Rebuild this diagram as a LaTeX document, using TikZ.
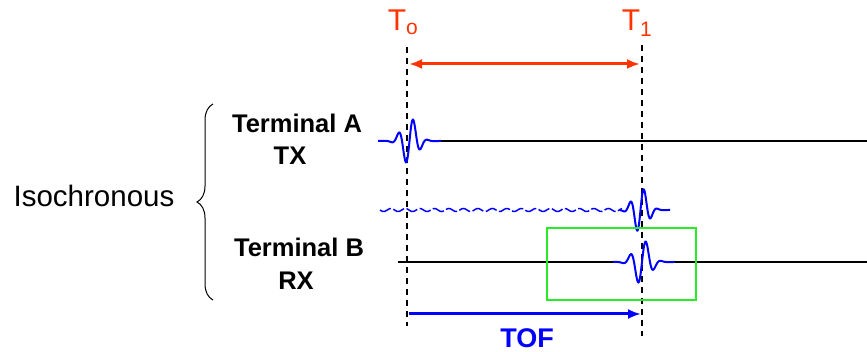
\documentclass[tikz,border=0pt]{standalone}
\usepackage{fontspec}
\setmainfont{Liberation Sans}
\usepackage{tikz}
\usetikzlibrary{arrows.meta,decorations.pathreplacing}
\definecolor{tred}{RGB}{255,51,0}
\definecolor{tblue}{RGB}{0,0,255}
\definecolor{tgreen}{RGB}{40,235,40}

\begin{document}
\begin{tikzpicture}[x=1pt,y=-1pt]
\def\cLine{black}
\def\cWave{tblue}
\def\yA{141}
\def\yW{210}
\def\yB{262}
\useasboundingbox (0,0) rectangle (867,352);
% time marks
\coordinate (t0top) at (407,47);
\coordinate (t0bot) at (407,326);
\coordinate (t1top) at (642,45);
\coordinate (t1bot) at (642,336);
\draw[\cLine, line width=1.4pt, dash pattern=on 6pt off 5pt] (t0top) -- (t0bot);
\draw[\cLine, line width=1.4pt, dash pattern=on 6pt off 5pt] (t1top) -- (t1bot);
\node[tred, anchor=base, font=\fontsize{30}{32}\selectfont] (T0) at (403,31) {T\textsubscript{o}};
\node[tred, anchor=base, font=\fontsize{30}{32}\selectfont] (T1) at (637,31) {T\textsubscript{1}};
\coordinate (r0) at (409,64);
\coordinate (r1) at (640,64);
\draw[tred, line width=3pt, {Latex[length=13pt,width=10pt]}-{Latex[length=13pt,width=10pt]}] (r0) -- (r1);
% labels
\node[font=\bfseries\fontsize{25.5}{28}\selectfont, anchor=base] (termA) at (297,133) {Terminal A};
\node[font=\bfseries\fontsize{25.5}{28}\selectfont, anchor=base] (tx) at (290,165) {TX};
\node[font=\bfseries\fontsize{25.5}{28}\selectfont, anchor=base] (termB) at (299,257) {Terminal B};
\node[font=\bfseries\fontsize{25.5}{28}\selectfont, anchor=base] (rx) at (296,290) {RX};
\node[font=\fontsize{29.5}{32}\selectfont, anchor=base] (iso) at (94,207) {Isochronous};
\coordinate (bb) at (213,300);
\coordinate (bt) at (213,104);
\draw[\cLine, line width=1pt, decorate, decoration={brace, amplitude=16pt}] (bb) -- (bt);
% terminal A
\coordinate (a0) at (441,\yA);
\coordinate (a1) at (867,\yA);
\draw[\cWave, line width=2pt] plot[domain=378:441, samples=150] (\x, {\yA - 24*exp(-((\x-409.5)/10.5)*((\x-409.5)/10.5))*sin(360*(\x-409.5)/15)});
\draw[\cLine, line width=1.8pt] (a0) -- (a1);
% received wave
\draw[\cWave, line width=1.5pt, dash pattern=on 12pt off 2.5pt] plot[domain=380:622, samples=300] (\x, {\yW + 1.5*sin(24.83*(\x-380))});
\draw[\cWave, line width=2pt] plot[domain=620:670, samples=120] (\x, {\yW - 23*exp(-((\x-640.5)/10)*((\x-640.5)/10))*sin(360*(\x-640.5)/14)});
% terminal B
\coordinate (b0) at (398,\yB);
\coordinate (b1) at (613,\yB);
\coordinate (b2) at (675,\yB);
\coordinate (b3) at (867,\yB);
\draw[\cLine, line width=1.8pt] (b0) -- (b1);
\draw[\cWave, line width=2pt] plot[domain=613:675, samples=150] (\x, {\yB - 23*exp(-((\x-642)/11)*((\x-642)/11))*sin(360*(\x-642)/16)});
\draw[\cLine, line width=1.8pt] (b2) -- (b3);
\node[draw=tgreen, line width=1.3pt, minimum width=149pt, minimum height=72pt, inner sep=0pt] (win) at (621.5,264) {};
% time of flight
\coordinate (f0) at (409,314);
\coordinate (f1) at (641,314);
\draw[tblue, line width=3pt, -{Latex[length=13pt,width=10pt]}] (f0) -- (f1);
\node[tblue, font=\bfseries\fontsize{27}{30}\selectfont, anchor=base] (tof) at (527,348) {TOF};
\end{tikzpicture}
\end{document}
